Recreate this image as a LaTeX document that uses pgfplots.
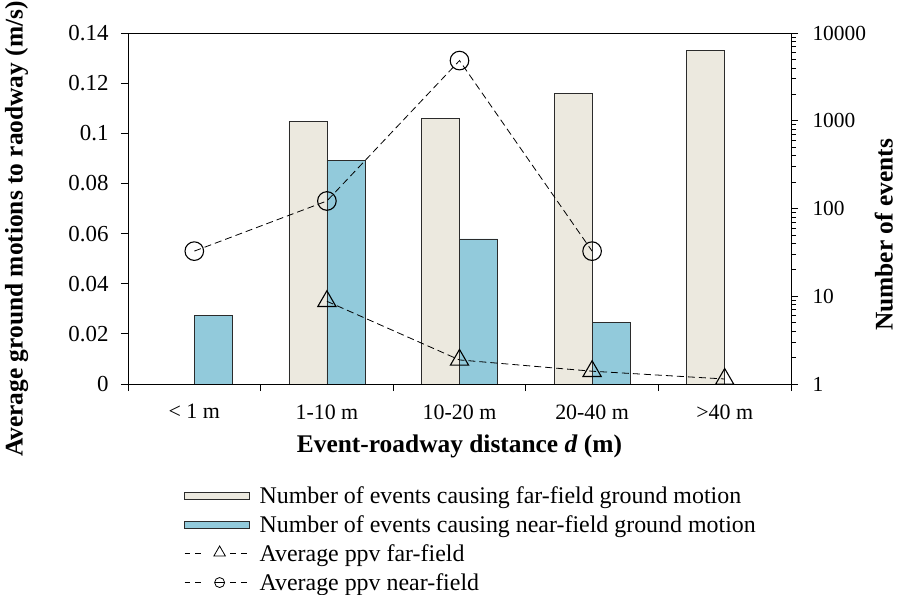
\documentclass[border=0pt]{standalone}
\usepackage{fontspec}
\setmainfont{Liberation Serif}
\usepackage{pgfplots}
\pgfplotsset{compat=1.18}

\definecolor{farfill}{HTML}{ECE9DF}
\definecolor{nearfill}{HTML}{92CADB}
\definecolor{edge}{HTML}{2B2B2B}

\newcommand{\labsize}{\bfseries\fontsize{25.5}{30}\selectfont}

\begin{document}
\begin{tikzpicture}
\useasboundingbox (-128bp,-211bp) rectangle (775bp,384bp);

% Number of events per distance class (log scale, right axis)
\begin{axis}[
  scale only axis, width=663bp, height=351bp,
  xmin=-0.5, xmax=4.5,
  ymode=log, ymin=1, ymax=10000,
  axis x line=none,
  axis y line*=right,
  tick align=outside,
  major tick length=7bp, minor tick length=5bp,
  every tick/.style={black, line width=0.8bp},
  axis line style={black, line width=0.9bp},
  log ticks with fixed point,
  /pgf/number format/1000 sep={},
  /pgf/number format/assume math mode=true,
  yticklabel style={font=\fontsize{21.5}{25}\selectfont, xshift=11bp},
  ylabel={Number of events},
  ylabel style={font=\labsize, at={(axis description cs:1.140,0.4245)}, anchor=center},
  ybar, bar width=38bp,
]
\addplot[fill=farfill, draw=edge, line width=0.8bp, bar shift=-19bp]
  coordinates {(1,990) (2,1070) (3,2050) (4,6300)};
\addplot[fill=nearfill, draw=edge, line width=0.8bp, bar shift=19bp]
  coordinates {(0,6) (1,355) (2,45) (3,5)};
\end{axis}

% Average ppv (left axis)
\begin{axis}[
  scale only axis, width=663bp, height=351bp,
  xmin=-0.5, xmax=4.5, ymin=0, ymax=0.14,
  clip=false,
  xtick={-0.5,0.5,1.5,2.5,3.5,4.5},
  x tick label as interval,
  xticklabels={{< 1 m},{1-10 m},{10-20 m},{20-40 m},{>40 m}},
  ytick={0,0.02,0.04,0.06,0.08,0.1,0.12,0.14},
  xtick pos=left, ytick pos=left,
  tick align=outside,
  major tick length=7bp,
  every tick/.style={black, line width=0.8bp},
  axis line style={black, line width=0.9bp},
  /pgf/number format/fixed, /pgf/number format/precision=2,
  /pgf/number format/assume math mode=true,
  yticklabel style={font=\fontsize{23}{27}\selectfont, xshift=-9bp},
  xticklabel style={font=\fontsize{22}{26}\selectfont, yshift=-10bp},
  xlabel={Event-roadway distance \textit{d} (m)},
  xlabel style={font=\labsize, at={(axis description cs:0.5,-0.179)}, anchor=center},
  ylabel={Average ground motions to raodway (m/s)},
  ylabel style={font=\labsize, at={(axis description cs:-0.168,0.4416)}, anchor=center},
  legend style={at={(axis description cs:0.0845,-0.287)}, anchor=north west,
    draw=none, fill=none, font=\fontsize{24}{28}\selectfont,
    row sep=6.5bp, inner sep=0pt},
  legend cell align=left,
]
\addlegendimage{legend image code/.code={
  \path[draw=none] (0bp,0bp) -- (73bp,0bp);
  \draw[fill=farfill, draw=edge, line width=0.8bp] (0bp,-3.4bp) rectangle (65bp,3.4bp);}}
\addlegendentry{Number of events causing far-field ground motion}
\addlegendimage{legend image code/.code={
  \path[draw=none] (0bp,0bp) -- (73bp,0bp);
  \draw[fill=nearfill, draw=edge, line width=0.8bp] (0bp,-3.4bp) rectangle (65bp,3.4bp);}}
\addlegendentry{Number of events causing near-field ground motion}
\addlegendimage{legend image code/.code={
  \path[draw=none] (0bp,0bp) -- (73bp,0bp);
  \draw[black, line width=0.8bp] (0bp,0bp) -- (5.7bp,0bp) (10.7bp,0bp) -- (16.7bp,0bp)
    (45.7bp,0bp) -- (51.3bp,0bp) (56.3bp,0bp) -- (62bp,0bp);
  \draw[black, line width=0.8bp] plot[mark=triangle, mark size=6.7bp] coordinates {(35bp,1bp)};}}
\addlegendentry{Average ppv far-field}
\addlegendimage{legend image code/.code={
  \path[draw=none] (0bp,0bp) -- (73bp,0bp);
  \draw[black, line width=0.8bp] (0bp,0bp) -- (5.7bp,0bp) (10.7bp,0bp) -- (16.7bp,0bp)
    (45.7bp,0bp) -- (51.3bp,0bp) (56.3bp,0bp) -- (62bp,0bp);
  \draw[black, line width=0.8bp] plot[mark=o, mark size=5bp] coordinates {(35bp,0bp)};
  \draw[black, line width=0.8bp] (30bp,0bp) -- (40bp,0bp);}}
\addlegendentry{Average ppv near-field}

\addplot[black, line width=0.8bp, dash pattern=on 7bp off 4bp,
  mark=triangle, mark size=10.5bp, mark options={solid, line width=1.1bp}, forget plot]
  coordinates {(1,0.033) (2,0.0096) (3,0.0051) (4,0.002)};
\addplot[black, line width=0.8bp, dash pattern=on 7bp off 4bp,
  mark=o, mark size=9.3bp, mark options={solid, line width=1.1bp}, forget plot]
  coordinates {(0,0.053) (1,0.073) (2,0.129) (3,0.053)};
\end{axis}
\end{tikzpicture}
\end{document}
